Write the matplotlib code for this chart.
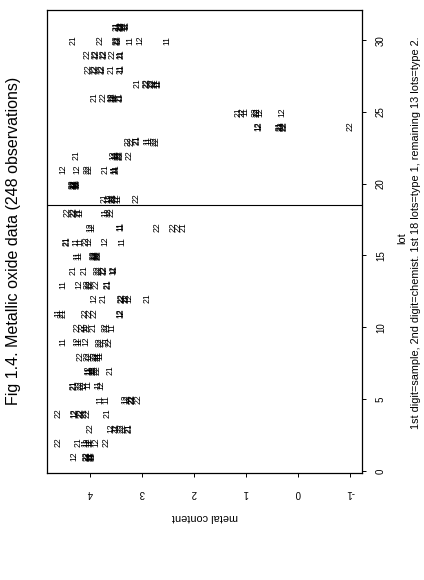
import matplotlib
matplotlib.use('Agg')
import matplotlib.pyplot as plt

plt.rcParams['font.family'] = ['Liberation Sans', 'DejaVu Sans']

# lots 1..31, 8 observations each (code = sample digit + chemist digit)
lot_numbers = list(range(1, 32))

metal_codes = [
    ['12', '22', '22', '21', '11', '21', '11', '12'],  # 1
    ['22', '21', '11', '12', '12', '11', '12', '22'],  # 2
    ['22', '12', '22', '11', '22', '22', '21', '21'],  # 3
    ['22', '12', '22', '22', '21', '22', '21', '12'],  # 4
    ['11', '11', '12', '22', '22', '21', '22', '12'],  # 5
    ['21', '22', '22', '12', '11', '11', '12', '21'],  # 6
    ['12', '11', '22', '22', '22', '21', '11', '12'],  # 7
    ['22', '22', '12', '22', '22', '11', '11', '21'],  # 8
    ['11', '12', '11', '12', '22', '22', '21', '22'],  # 9
    ['22', '22', '11', '22', '21', '22', '21', '11'],  # 10
    ['11', '21', '21', '22', '22', '22', '12', '12'],  # 11
    ['12', '21', '22', '22', '11', '22', '12', '21'],  # 12
    ['11', '12', '22', '22', '12', '22', '21', '21'],  # 13
    ['21', '21', '22', '22', '22', '12', '12', '11'],  # 14
    ['11', '11', '22', '22', '12', '22', '21', '12'],  # 15
    ['21', '21', '11', '11', '22', '12', '12', '11'],  # 16
    ['12', '12', '11', '11', '22', '22', '22', '21'],  # 17
    ['22', '22', '22', '21', '11', '11', '12', '22'],  # 18
    ['21', '11', '12', '22', '21', '22', '11', '22'],  # 19
    ['22', '22', '11', '12', '21', '22', '11', '12'],  # 20
    ['12', '12', '22', '22', '21', '11', '21', '11'],  # 21
    ['21', '12', '11', '22', '22', '21', '22', '12'],  # 22
    ['22', '22', '21', '21', '11', '11', '22', '22'],  # 23
    ['12', '12', '21', '22', '22', '21', '22', '22'],  # 24
    ['21', '22', '11', '22', '12', '22', '12', '12'],  # 25
    ['21', '22', '12', '22', '11', '12', '11', '21'],  # 26
    ['21', '22', '22', '22', '12', '11', '11', '21'],  # 27
    ['22', '22', '12', '22', '12', '21', '21', '11'],  # 28
    ['22', '22', '12', '22', '12', '22', '11', '21'],  # 29
    ['21', '22', '22', '12', '21', '11', '12', '11'],  # 30
    ['21', '11', '22', '12', '22', '12', '21', '11'],  # 31
]

metal_values = [
    [4.32, 4.08, 4.05, 4.03, 4.01, 3.99, 3.97, 4.00],
    [4.61, 4.24, 4.10, 4.06, 4.02, 4.00, 3.88, 3.69],
    [4.00, 3.60, 3.53, 3.50, 3.40, 3.37, 3.27, 3.25],
    [4.61, 4.32, 4.20, 4.17, 4.12, 4.05, 3.68, 4.30],
    [3.81, 3.70, 3.33, 3.22, 3.19, 3.20, 3.08, 3.30],
    [4.32, 4.22, 4.18, 4.12, 4.04, 3.86, 3.80, 4.30],
    [4.05, 4.02, 3.95, 3.91, 3.87, 3.62, 4.00, 3.97],
    [4.20, 4.05, 4.03, 3.92, 3.88, 3.86, 3.82, 3.84],
    [4.52, 4.25, 4.22, 4.08, 3.82, 3.79, 3.70, 3.64],
    [4.25, 4.15, 4.10, 4.05, 3.95, 3.72, 3.68, 3.58],
    [4.62, 4.56, 4.52, 4.10, 4.02, 3.92, 3.42, 3.40],
    [3.92, 3.76, 3.40, 3.38, 3.33, 3.30, 3.25, 2.91],
    [4.53, 4.22, 4.05, 4.02, 4.00, 3.88, 3.68, 3.66],
    [4.32, 4.12, 3.86, 3.82, 3.76, 3.74, 3.56, 3.54],
    [4.25, 4.22, 3.95, 3.90, 3.92, 3.85, 3.87, 3.88],
    [4.47, 4.44, 4.27, 4.20, 4.08, 4.03, 3.72, 3.39],
    [4.00, 3.97, 3.42, 3.40, 2.72, 2.40, 2.30, 2.22],
    [4.45, 4.33, 4.30, 4.23, 4.20, 3.72, 3.66, 3.60],
    [3.73, 3.65, 3.62, 3.58, 3.55, 3.50, 3.47, 3.12],
    [4.35, 4.33, 4.30, 4.32, 4.28, 4.30, 4.27, 4.25],
    [4.52, 4.25, 4.06, 4.02, 3.72, 3.55, 3.50, 3.53],
    [4.27, 3.56, 3.53, 3.46, 3.43, 3.44, 3.25, 3.50],
    [3.27, 3.22, 3.12, 3.10, 2.90, 2.87, 2.77, 2.74],
    [0.78, 0.75, 0.36, 0.32, 0.29, 0.34, 0.27, -1.00],
    [1.15, 1.07, 1.03, 0.82, 0.80, 0.78, 0.74, 0.31],
    [3.92, 3.75, 3.60, 3.58, 3.56, 3.55, 3.42, 3.44],
    [3.10, 2.93, 2.91, 2.82, 2.80, 2.72, 2.70, 2.75],
    [4.04, 3.92, 3.90, 3.79, 3.77, 3.60, 3.42, 3.40],
    [4.06, 3.90, 3.88, 3.75, 3.73, 3.58, 3.42, 3.40],
    [4.32, 3.81, 3.50, 3.47, 3.49, 3.23, 3.04, 2.53],
    [3.50, 3.48, 3.42, 3.40, 3.36, 3.33, 3.45, 3.31],
]

lot_ticks = [0, 5, 10, 15, 20, 25, 30]
metal_ticks = [-1, 0, 1, 2, 3, 4]

fig = plt.figure(figsize=(4.24, 5.8), dpi=100)
# page is turned on its side: lot runs upward, metal content runs leftward
ax = fig.add_axes([47 / 424, 1 - 473 / 580, 315 / 424, 463 / 580])

for lot, vals, codes in zip(lot_numbers, metal_values, metal_codes):
    for v, c in zip(vals, codes):
        ax.text(v, lot, c, rotation=90, ha='center', va='center', fontsize=6.2)

ax.axhline(18.5, color='black', lw=0.8)

ax.set_xlim(4.83, -1.23)
ax.set_ylim(-0.15, 32.1)

ax.set_xticks(metal_ticks)
ax.set_xticklabels([str(t) for t in metal_ticks], rotation=180, fontsize=7)
ax.yaxis.tick_right()
ax.set_yticks(lot_ticks)
ax.set_yticklabels([str(t) for t in lot_ticks], rotation=90, va='center', fontsize=7)
ax.tick_params(axis='x', length=3, width=0.7, pad=8)
ax.tick_params(axis='y', length=3, width=0.7, pad=7)
for s in ax.spines.values():
    s.set_linewidth(0.9)

fig.text(14 / 424, 1 - 241 / 580, 'Fig 1.4. Metallic oxide data (248 observations)',
         rotation=90, ha='center', va='center', fontsize=11.5)
fig.text(205 / 424, 1 - 517 / 580, 'metal content', rotation=180,
         ha='center', va='center', fontsize=7.8)
fig.text(402 / 424, 1 - 238 / 580, 'lot', rotation=90, ha='center', va='center', fontsize=7.8)
fig.text(416 / 424, 1 - 233 / 580,
         '1st digit=sample, 2nd digit=chemist. 1st 18 lots=type 1, remaining 13 lots=type 2.',
         rotation=90, ha='center', va='center', fontsize=7.8)

fig.savefig('out.png', dpi=100)
